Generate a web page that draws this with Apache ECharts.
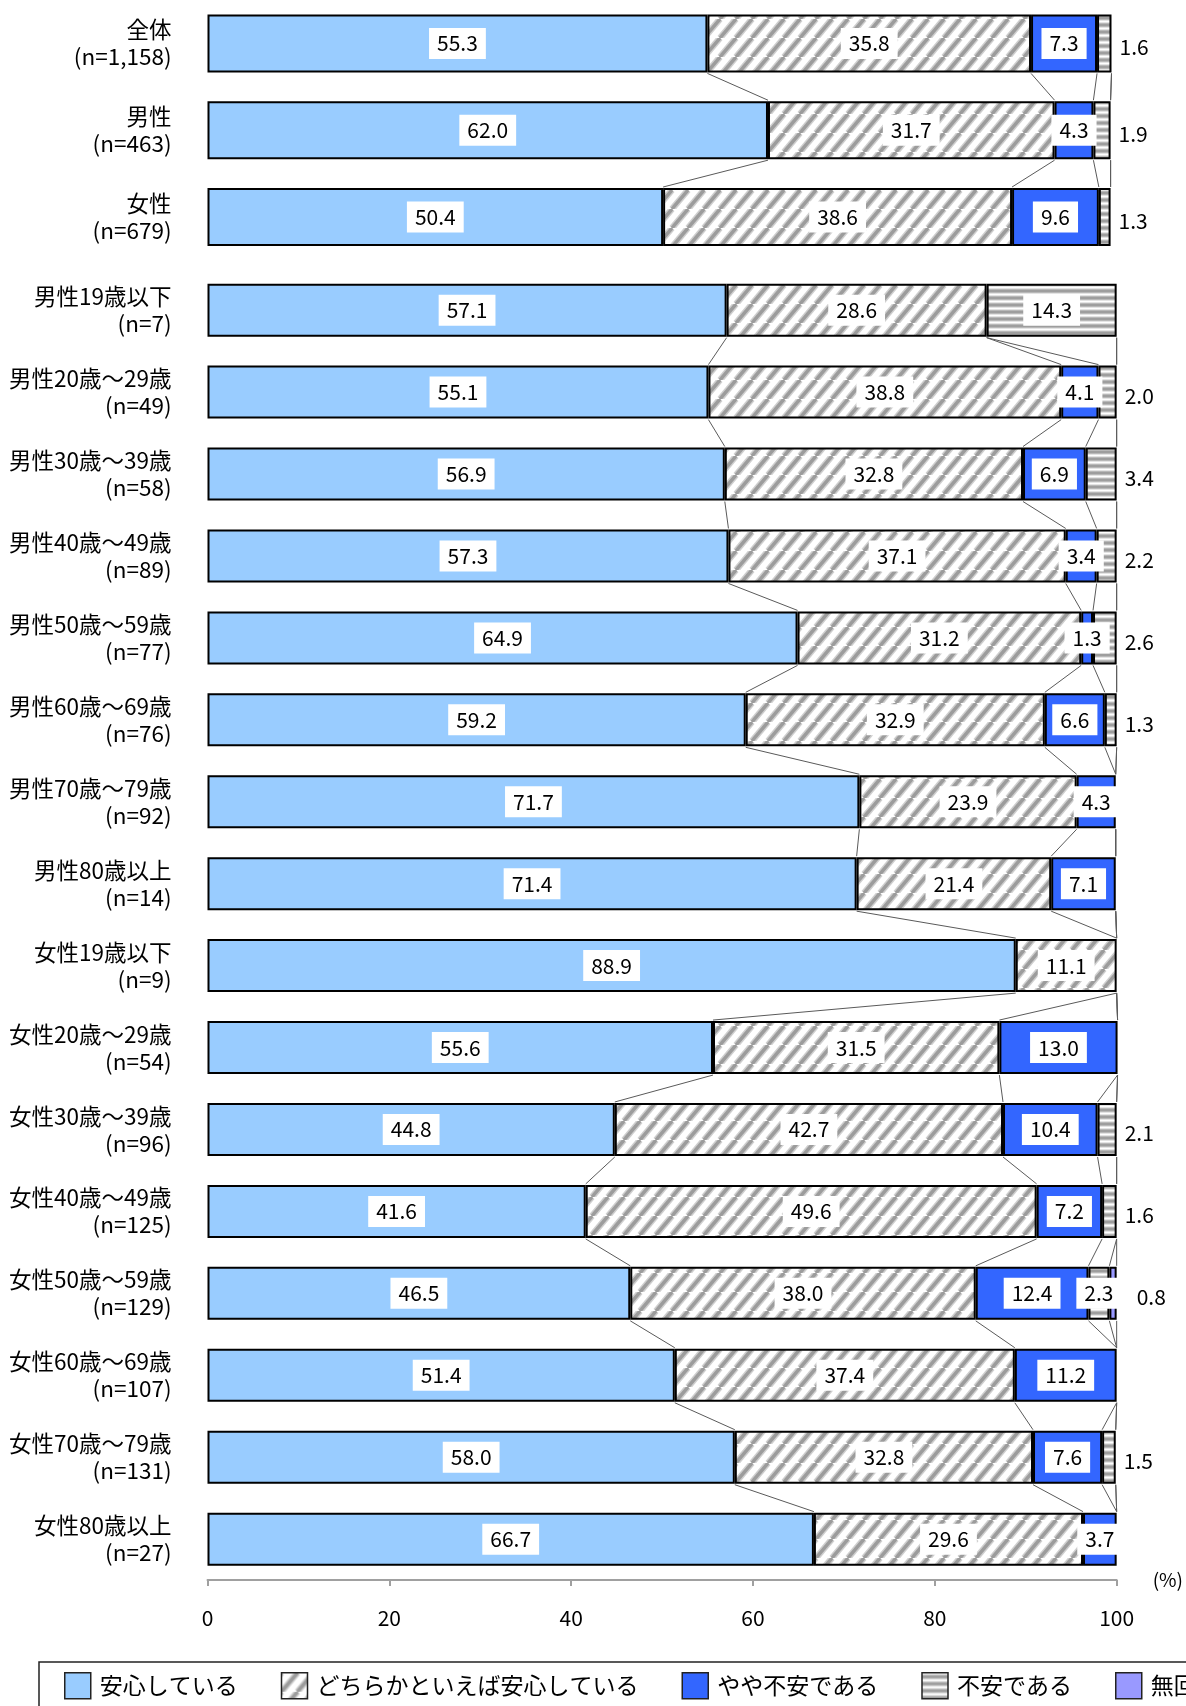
<!DOCTYPE html>
<html>
<head>
<meta charset="utf-8">
<script src="https://cdn.jsdelivr.net/npm/echarts@6/dist/echarts.min.js"></script>
<style>
  html, body { margin: 0; padding: 0; background: #ffffff; }
  #chart { width: 1186px; height: 1706px; }
</style>
</head>
<body>
<div id="chart"></div>
<script>
// Answer categories, in stacking / legend order
const seriesNames = ['安心している', 'どちらかといえば安心している', 'やや不安である', '不安である', '無回答'];

// Upper block: total and by sex
const overallCategories = ['全体\n(n=1,158)', '男性\n(n=463)', '女性\n(n=679)'];
const overallAnshin  = [55.3, 62.0, 50.4];
const overallDochira = [35.8, 31.7, 38.6];
const overallYaya    = [7.3, 4.3, 9.6];
const overallFuan    = [1.6, 1.9, 1.3];
const overallMukaito = [0, 0, 0];

// Lower block: by sex and age group
const ageCategories = [
  '男性19歳以下\n(n=7)', '男性20歳～29歳\n(n=49)', '男性30歳～39歳\n(n=58)', '男性40歳～49歳\n(n=89)',
  '男性50歳～59歳\n(n=77)', '男性60歳～69歳\n(n=76)', '男性70歳～79歳\n(n=92)', '男性80歳以上\n(n=14)',
  '女性19歳以下\n(n=9)', '女性20歳～29歳\n(n=54)', '女性30歳～39歳\n(n=96)', '女性40歳～49歳\n(n=125)',
  '女性50歳～59歳\n(n=129)', '女性60歳～69歳\n(n=107)', '女性70歳～79歳\n(n=131)', '女性80歳以上\n(n=27)'
];
const ageAnshin  = [57.1, 55.1, 56.9, 57.3, 64.9, 59.2, 71.7, 71.4, 88.9, 55.6, 44.8, 41.6, 46.5, 51.4, 58.0, 66.7];
const ageDochira = [28.6, 38.8, 32.8, 37.1, 31.2, 32.9, 23.9, 21.4, 11.1, 31.5, 42.7, 49.6, 38.0, 37.4, 32.8, 29.6];
const ageYaya    = [0, 4.1, 6.9, 3.4, 1.3, 6.6, 4.3, 7.1, 0, 13.0, 10.4, 7.2, 12.4, 11.2, 7.6, 3.7];
const ageFuan    = [14.3, 2.0, 3.4, 2.2, 2.6, 1.3, 0, 0, 0, 0, 2.1, 1.6, 2.3, 0, 1.5, 0];
const ageMukaito = [0, 0, 0, 0, 0, 0, 0, 0, 0, 0, 0, 0, 0.8, 0, 0, 0];

const axisTicks = [0, 20, 40, 60, 80, 100];

// ---- fills -------------------------------------------------------------
function diagonalHatch() {
  const w = 16, h = 19;
  const c = document.createElement('canvas');
  c.width = w; c.height = h;
  const g = c.getContext('2d');
  g.fillStyle = '#ffffff';
  g.fillRect(0, 0, w, h);
  const draw = (color, width) => {
    g.strokeStyle = color; g.lineWidth = width;
    for (const dx of [-w, 0, w]) {
      g.beginPath(); g.moveTo(dx, h); g.lineTo(dx + w, 0); g.stroke();
    }
  };
  draw('#cfcfcf', 6.5);
  draw('#9c9c9c', 3.4);
  return { image: c, repeat: 'repeat' };
}

function horizontalStripes() {
  const rows = ['#ffffff', '#e4e4e4', '#b8b8b8', '#9e9e9e', '#9e9e9e', '#b8b8b8', '#e4e4e4'];
  const c = document.createElement('canvas');
  c.width = 4; c.height = rows.length;
  const g = c.getContext('2d');
  rows.forEach((col, y) => { g.fillStyle = col; g.fillRect(0, y, 4, 1); });
  return { image: c, repeat: 'repeat' };
}

const fills = ['#99ccff', diagonalHatch(), '#3366ff', horizontalStripes(), '#9999ff'];

// ---- labels ------------------------------------------------------------
const valueFont = { fontFamily: 'Noto Sans CJK JP', fontSize: 21, lineHeight: 21, color: '#000000' };
const insideLabel = Object.assign({
  show: true, position: 'inside', backgroundColor: '#ffffff', padding: [5, 8, 5, 8],
  formatter: p => Number(p.value).toFixed(1)
}, valueFont);
const outsideLabel = (distance) => Object.assign({
  show: true, position: 'right', distance: distance, offset: [0, 4],
  formatter: p => Number(p.value).toFixed(1)
}, valueFont);

// Builds the data items of one segment series; small closing segments get their value to the right of the bar
function segmentData(cols, k) {
  return cols[k].map((v, i) => {
    if (!v) return { value: '-', label: { show: false } };
    const isLast = cols.slice(k + 1).every(c => !c[i]);
    let label = insideLabel;
    if (k >= 3 && isLast && v < 5) {
      label = outsideLabel(k === 4 && cols[3][i] ? 20 : 8);
    }
    return { value: v, label: label };
  });
}

function barSeries(cols, gridIndex, barWidth) {
  return seriesNames.map((name, k) => ({
    type: 'bar',
    name: name,
    stack: 'total' + gridIndex,
    xAxisIndex: gridIndex,
    yAxisIndex: gridIndex,
    barWidth: barWidth,
    itemStyle: { color: fills[k], borderColor: '#000000', borderWidth: 2 },
    emphasis: { disabled: true },
    data: segmentData(cols, k)
  }));
}

// Thin lines joining the segment boundaries of neighbouring bars
function cumulative(cols) {
  return cols[0].map((_, i) => { let s = 0; return cols.map(c => (s += c[i])); });
}
function connectorSeries(cols, gridIndex, halfHeight) {
  const cum = cumulative(cols);
  const data = [];
  for (let i = 0; i < cum.length - 1; i++) data.push([i].concat(cum[i], cum[i + 1]));
  return {
    type: 'custom',
    xAxisIndex: gridIndex,
    yAxisIndex: gridIndex,
    silent: true,
    z: 1,
    encode: { y: 0, x: [1, 2, 3, 4, 5, 6, 7, 8, 9, 10] },
    data: data,
    renderItem(params, api) {
      const row = api.value(0);
      const children = [];
      for (let k = 0; k < 5; k++) {
        const a = api.coord([api.value(1 + k), row]);
        const b = api.coord([api.value(6 + k), row + 1]);
        children.push({
          type: 'line',
          shape: { x1: a[0], y1: a[1] + halfHeight, x2: b[0], y2: b[1] - halfHeight },
          style: { stroke: '#5a5a5a', lineWidth: 1 }
        });
      }
      return { type: 'group', children: children };
    }
  };
}

const overallCols = [overallAnshin, overallDochira, overallYaya, overallFuan, overallMukaito];
const ageCols = [ageAnshin, ageDochira, ageYaya, ageFuan, ageMukaito];

const categoryLabel = {
  color: '#000000', fontFamily: 'Noto Sans CJK JP', fontSize: 22.5, lineHeight: 27,
  align: 'right', margin: 36
};

const option = {
  backgroundColor: '#ffffff',
  animation: false,
  grid: [
    { left: 207.5, top: -6.1, width: 904, height: 266.5 },
    { left: 207.5, top: 269.2, width: 910, height: 1310.9 }
  ],
  xAxis: [
    { gridIndex: 0, type: 'value', min: 0, max: 100, show: false },
    {
      gridIndex: 1, type: 'value', min: axisTicks[0], max: axisTicks[axisTicks.length - 1],
      interval: axisTicks[1] - axisTicks[0],
      axisLine: { show: true, lineStyle: { color: '#a0a0a0', width: 2 } },
      axisTick: { show: true, length: 6, lineStyle: { color: '#a0a0a0', width: 2 } },
      splitLine: { show: false },
      axisLabel: { color: '#000000', fontFamily: 'Noto Sans CJK JP', fontSize: 21, margin: 27 },
      name: '(%)', nameLocation: 'end', nameGap: 36,
      nameTextStyle: { color: '#000000', fontFamily: 'Noto Sans CJK JP', fontSize: 19, align: 'left', verticalAlign: 'middle', padding: [24, 0, 0, 0] }
    }
  ],
  yAxis: [
    {
      gridIndex: 0, type: 'category', inverse: true, data: overallCategories,
      axisLine: { show: false }, axisTick: { show: false }, axisLabel: categoryLabel
    },
    {
      gridIndex: 1, type: 'category', inverse: true, data: ageCategories,
      axisLine: { show: false }, axisTick: { show: false }, axisLabel: categoryLabel
    }
  ],
  legend: {
    data: seriesNames,
    left: 39, top: 1662, width: 1500,
    orient: 'horizontal',
    icon: 'rect', itemWidth: 26, itemHeight: 26, itemGap: 43,
    padding: [10, 25, 10, 25],
    borderColor: '#222222', borderWidth: 1.5,
    selectedMode: false,
    itemStyle: { borderColor: '#222222', borderWidth: 1.5 },
    textStyle: { color: '#000000', fontFamily: 'Noto Sans CJK JP', fontSize: 23, padding: [0, 0, 0, 4] }
  },
  series: [
    connectorSeries(overallCols, 0, 30),
    connectorSeries(ageCols, 1, 27.5),
    ...barSeries(overallCols, 0, 58),
    ...barSeries(ageCols, 1, 53)
  ]
};

const chart = echarts.init(document.getElementById('chart'), null, { renderer: 'canvas' });
chart.setOption(option);
</script>
</body>
</html>
